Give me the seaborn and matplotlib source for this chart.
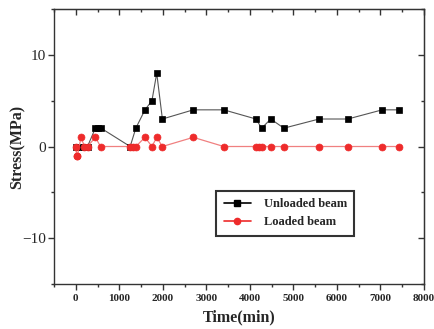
import matplotlib
matplotlib.use("Agg")
import matplotlib.pyplot as plt
import seaborn as sns
import pandas as pd
from matplotlib.lines import Line2D
from matplotlib.ticker import MultipleLocator

unloaded_time = [0, 90, 200, 270, 450, 520, 580, 1250, 1380, 1590, 1750, 1860, 1990,
                 2700, 3400, 4140, 4270, 4480, 4780, 5590, 6250, 7040, 7420]
unloaded_stress = [0, 0, 0, 0, 2, 2, 2, 0, 2, 4, 5, 8, 3,
                   4, 4, 3, 2, 3, 2, 3, 3, 4, 4]

loaded_time = [0, 20, 40, 120, 200, 270, 450, 570, 1250, 1310, 1380, 1590, 1750, 1860,
               1990, 2700, 3400, 4140, 4210, 4270, 4480, 4780, 5590, 6250, 7040, 7420]
loaded_stress = [0, -1, -1, 1, 0, 0, 1, 0, 0, 0, 0, 1, 0, 1,
                 0, 1, 0, 0, 0, 0, 0, 0, 0, 0, 0, 0]

sns.set_style("ticks")
plt.rcParams["font.family"] = ["Liberation Serif", "DejaVu Serif"]

fig = plt.figure(figsize=(4.34, 3.29), dpi=100)
ax = fig.add_axes([0.1244, 0.1368, 0.8526, 0.8358])

df_u = pd.DataFrame({"t": unloaded_time, "s": unloaded_stress})
df_l = pd.DataFrame({"t": loaded_time, "s": loaded_stress})

sns.lineplot(data=df_u, x="t", y="s", ax=ax, sort=False, estimator=None,
             color="#555555", linewidth=0.8, marker="s", markersize=4.2,
             markerfacecolor="black", markeredgecolor="black", markeredgewidth=0.5)
sns.lineplot(data=df_l, x="t", y="s", ax=ax, sort=False, estimator=None,
             color="#f08080", linewidth=0.9, marker="o", markersize=5,
             markerfacecolor="#ee2b2b", markeredgecolor="#ee2b2b", markeredgewidth=0.5)

ax.set_xlim(-500, 8000)
ax.set_ylim(-15, 15)
ax.xaxis.set_major_locator(MultipleLocator(1000))
ax.xaxis.set_minor_locator(MultipleLocator(500))
ax.yaxis.set_major_locator(MultipleLocator(10))
ax.yaxis.set_minor_locator(MultipleLocator(5))

for sp in ax.spines.values():
    sp.set_visible(True)
    sp.set_linewidth(1.0)
    sp.set_color("#333333")

ax.tick_params(axis="both", which="major", direction="out", length=4, width=1, color="#333333")
ax.tick_params(axis="both", which="minor", direction="out", length=2, width=1, color="#333333")
ax.tick_params(axis="y", labelsize=11, pad=2)
ax.tick_params(axis="x", labelsize=8, pad=3)
for lab in ax.get_xticklabels():
    lab.set_fontweight("bold")

sec_x = ax.secondary_xaxis("top")
sec_x.xaxis.set_major_locator(MultipleLocator(1000))
sec_x.xaxis.set_minor_locator(MultipleLocator(500))
sec_x.tick_params(which="major", direction="in", length=4, width=1, labeltop=False, color="#333333")
sec_x.tick_params(which="minor", direction="in", length=2, width=1, color="#333333")
sec_y = ax.secondary_yaxis("right")
sec_y.yaxis.set_major_locator(MultipleLocator(10))
sec_y.yaxis.set_minor_locator(MultipleLocator(5))
sec_y.tick_params(which="major", direction="in", length=4, width=1, labelright=False, color="#333333")
sec_y.tick_params(which="minor", direction="in", length=2, width=1, color="#333333")

ax.set_xlabel("Time(min)", fontsize=11.5, fontweight="bold", labelpad=5)
ax.set_ylabel("Stress(MPa)", fontsize=11.5, fontweight="bold", labelpad=-3)

handles = [
    Line2D([], [], color="black", linewidth=1.2, marker="s", markersize=4.2,
           markerfacecolor="black", markeredgecolor="black"),
    Line2D([], [], color="#ee2b2b", linewidth=1.2, marker="o", markersize=4.5,
           markerfacecolor="#ee2b2b", markeredgecolor="#ee2b2b"),
]
leg = ax.legend(handles, ["Unloaded beam", "Loaded beam"], loc="lower left",
                bbox_to_anchor=(0.438, 0.175), frameon=True, fancybox=False,
                prop={"weight": "bold", "size": 9}, handlelength=2.2,
                borderpad=0.6, labelspacing=0.5, handletextpad=1.0, borderaxespad=0)
leg.get_frame().set_edgecolor("black")
leg.get_frame().set_linewidth(1.5)

fig.savefig("out.png", dpi=100)
